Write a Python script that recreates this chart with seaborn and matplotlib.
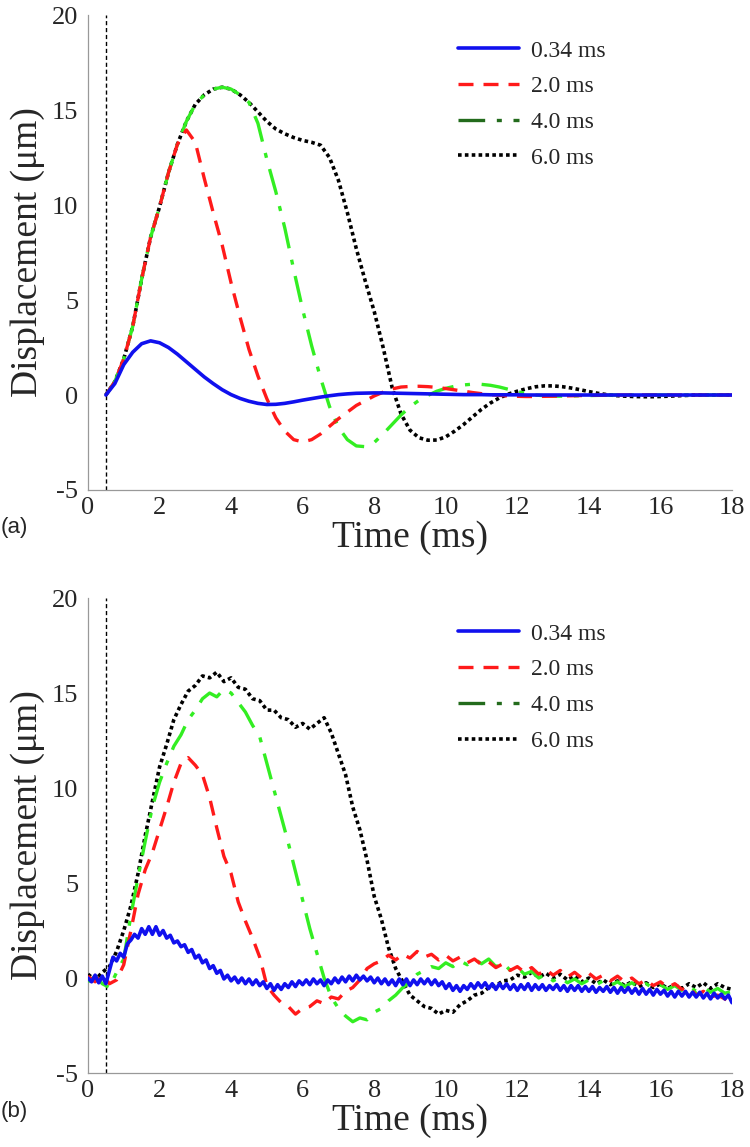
import numpy as np
import pandas as pd
import seaborn as sns
import matplotlib
matplotlib.use("Agg")
from matplotlib import pyplot as plt

# ---- data, panel (a): simulated displacement, sampled every 0.25 ms from 0.5 ms
time_a = np.arange(0.5, 18.0001, 0.25)

blue_a = [0.0, 0.6, 1.6, 2.25, 2.7, 2.85, 2.75, 2.5, 2.15, 1.75, 1.35, 0.95,
          0.6, 0.28, 0.02, -0.18, -0.33, -0.44, -0.5, -0.49, -0.44, -0.36, -0.27, -0.19,
          -0.11, -0.04, 0.02, 0.06, 0.09, 0.1, 0.11, 0.11, 0.1, 0.09, 0.08, 0.07,
          0.06, 0.05, 0.04, 0.03, 0.02, 0.02, 0.02, 0.01, 0.01, 0.01, 0.01, 0.0,
          0.0, 0.0, 0.0, 0.0, 0.0, 0.0, 0.0, 0.0, 0.0, 0.0, 0.0, 0.0,
          0.0, 0.0, 0.0, 0.0, 0.0, 0.0, 0.0, 0.0, 0.0, 0.0, 0.0]

red_a = [0.0, 0.7, 1.9, 3.6, 6.1, 8.3, 9.9, 11.7, 13.2, 13.95, 13.3, 11.4,
         9.6, 7.9, 5.9, 4.1, 2.4, 1.0, -0.2, -1.2, -1.9, -2.35, -2.47, -2.35,
         -2.05, -1.65, -1.25, -0.9, -0.55, -0.3, -0.05, 0.15, 0.32, 0.42, 0.45, 0.46,
         0.44, 0.4, 0.34, 0.27, 0.2, 0.13, 0.07, 0.02, -0.02, -0.05, -0.07, -0.08,
         -0.08, -0.07, -0.06, -0.05, -0.04, -0.03, -0.02, -0.01, 0.0, 0.0, 0.0, 0.0,
         0.0, 0.0, 0.0, 0.0, 0.0, 0.0, 0.0, 0.0, 0.0, 0.0, 0.0]

green_a = [0.0, 0.7, 1.9, 3.6, 6.1, 8.3, 9.9, 11.7, 13.2, 14.4, 15.3, 15.8,
           16.1, 16.2, 16.1, 15.8, 15.4, 14.3, 12.4, 10.7, 8.8, 6.6, 4.5, 2.6,
           0.9, -0.6, -1.7, -2.35, -2.68, -2.72, -2.5, -2.05, -1.55, -1.05, -0.62, -0.28,
           -0.02, 0.2, 0.35, 0.46, 0.53, 0.57, 0.56, 0.51, 0.42, 0.3, 0.18, 0.08,
           0.0, -0.04, -0.06, -0.06, -0.05, -0.04, -0.03, -0.02, -0.01, 0.0, 0.0, 0.0,
           0.0, 0.0, 0.0, 0.0, 0.0, 0.0, 0.0, 0.0, 0.0, 0.0, 0.0]

black_a = [0.0, 0.7, 1.9, 3.6, 6.1, 8.3, 9.9, 11.7, 13.2, 14.4, 15.3, 15.8,
           16.1, 16.2, 16.1, 15.8, 15.4, 14.9, 14.4, 14.0, 13.75, 13.55, 13.4, 13.3,
           13.15, 12.5, 11.3, 9.6, 7.7, 6.0, 4.4, 2.5, 0.4, -1.0, -1.85, -2.25,
           -2.38, -2.37, -2.2, -1.9, -1.55, -1.15, -0.75, -0.42, -0.15, 0.05, 0.2, 0.33,
           0.43, 0.48, 0.48, 0.44, 0.37, 0.28, 0.18, 0.09, 0.02, -0.03, -0.06, -0.08,
           -0.09, -0.09, -0.08, -0.06, -0.04, -0.02, 0.0, 0.0, 0.0, 0.0, 0.0]

# ---- data, panel (b): measured displacement
time_b_blue = np.arange(0.0, 18.0001, 0.1)
blue_b = [0.0, -0.2, 0.15, -0.25, 0.1, -0.3, 0.4, 1.1, 0.9, 1.3,
          1.1, 1.8, 2.0, 2.3, 2.1, 2.6, 2.3, 2.7, 2.3, 2.7,
          2.25, 2.5, 2.1, 2.25, 1.85, 1.95, 1.65, 1.75, 1.35, 1.5,
          1.05, 1.2, 0.8, 0.95, 0.5, 0.65, 0.25, 0.4, -0.05, 0.15,
          -0.15, 0.05, -0.25, 0.0, -0.3, -0.05, -0.35, -0.1, -0.4, -0.2,
          -0.55, -0.3, -0.65, -0.35, -0.6, -0.3, -0.5, -0.2, -0.45, -0.15,
          -0.35, -0.1, -0.35, -0.05, -0.3, -0.1, -0.4, -0.1, -0.3, 0.0,
          -0.25, 0.05, -0.2, 0.1, -0.15, 0.15, -0.1, 0.1, -0.15, 0.05,
          -0.25, 0.0, -0.3, -0.05, -0.35, -0.1, -0.4, -0.05, -0.35, -0.05,
          -0.4, -0.1, -0.35, -0.05, -0.3, -0.05, -0.35, -0.1, -0.4, -0.2,
          -0.55, -0.3, -0.65, -0.4, -0.7, -0.4, -0.6, -0.3, -0.55, -0.25,
          -0.5, -0.25, -0.55, -0.3, -0.6, -0.3, -0.55, -0.3, -0.6, -0.35,
          -0.65, -0.35, -0.6, -0.3, -0.65, -0.35, -0.6, -0.35, -0.65, -0.4,
          -0.6, -0.35, -0.65, -0.4, -0.7, -0.4, -0.65, -0.4, -0.7, -0.45,
          -0.7, -0.45, -0.75, -0.5, -0.7, -0.45, -0.75, -0.5, -0.8, -0.5,
          -0.75, -0.5, -0.8, -0.55, -0.85, -0.55, -0.85, -0.6, -0.9, -0.6,
          -0.85, -0.65, -0.95, -0.7, -1.0, -0.7, -0.95, -0.7, -1.0, -0.75,
          -1.0, -0.75, -1.05, -0.8, -1.1, -0.8, -1.05, -0.85, -1.1, -0.9,
          -1.3]

time_b = np.arange(0.0, 18.0001, 0.2)
red_b = [0.1, -0.2, 0.2, -0.3, -0.1, 0.7, 2.5, 4.4, 5.7, 6.6,
         7.8, 9.0, 10.3, 11.3, 11.6, 11.2, 10.7, 9.5, 7.9, 6.4,
         5.5, 4.0, 3.0, 2.1, 1.1, -0.4, -0.9, -1.3, -1.5, -1.9,
         -1.6, -1.5, -1.2, -1.35, -1.0, -1.1, -0.7, -0.5, -0.1, 0.5,
         0.75, 0.9, 1.2, 0.95, 1.25, 1.05, 1.4, 1.1, 1.25, 0.95,
         1.2, 0.9, 1.1, 0.8, 1.0, 0.7, 0.85, 0.55, 0.75, 0.4,
         0.6, 0.3, 0.55, 0.2, 0.45, 0.15, 0.4, 0.05, 0.3, 0.0,
         0.25, -0.05, 0.15, -0.15, 0.1, -0.2, 0.0, -0.3, -0.1, -0.4,
         -0.2, -0.5, -0.3, -0.6, -0.5, -0.9, -0.7, -1.0, -0.9, -1.1,
         -1.3]
green_b = [-0.2, 0.1, -0.3, -0.5, 0.3, 1.0, 3.3, 5.3, 7.2, 9.0,
           10.3, 11.3, 12.2, 12.8, 13.6, 14.1, 14.7, 15.0, 14.8, 15.2,
           15.0, 14.5, 14.0, 13.3, 12.7, 11.3, 9.9, 8.5, 7.1, 5.6,
           4.1, 2.6, 1.3, 0.0, -1.0, -1.6, -2.0, -2.3, -2.1, -2.2,
           -1.8, -1.6, -1.2, -0.9, -0.5, -0.2, 0.2, 0.4, 0.6, 0.5,
           0.8, 0.6, 0.9, 0.7, 1.0, 0.75, 1.0, 0.6, 0.8, 0.4,
           0.55, 0.2, 0.35, 0.0, 0.2, -0.15, 0.05, -0.25, -0.05, -0.3,
           -0.1, -0.35, -0.15, -0.4, -0.2, -0.45, -0.25, -0.5, -0.3, -0.55,
           -0.35, -0.6, -0.4, -0.65, -0.45, -0.7, -0.5, -0.75, -0.55, -0.8,
           -0.7]
black_b = [0.2, -0.1, 0.3, 0.6, 1.4, 2.5, 3.8, 5.5, 7.5, 9.3,
           11.1, 12.3, 13.6, 14.4, 15.1, 15.4, 15.9, 15.8, 16.1, 15.6,
           15.8, 15.3, 15.2, 14.7, 14.6, 14.1, 14.1, 13.7, 13.6, 13.2,
           13.4, 13.1, 13.4, 13.7, 12.9, 11.8, 10.7, 9.0, 7.8, 6.2,
           4.3, 3.1, 1.6, 0.5, -0.2, -0.9, -1.2, -1.5, -1.6, -1.9,
           -1.7, -1.8, -1.4, -1.2, -0.9, -0.8, -0.5, -0.4, -0.15, -0.1,
           0.15, 0.05, 0.3, 0.05, 0.25, 0.0, 0.2, -0.1, 0.1, -0.2,
           0.0, -0.3, -0.1, -0.35, -0.15, -0.4, -0.2, -0.45, -0.25, -0.5,
           -0.3, -0.55, -0.35, -0.55, -0.3, -0.5, -0.25, -0.55, -0.3, -0.5,
           -0.6]

labels = ["0.34 ms", "2.0 ms", "4.0 ms", "6.0 ms"]
colors = ["#1010ee", "#ff1a1a", "#33ee22", "black"]
dashes = [(None, None), (4.5, 3), (8, 3.5, 1.5, 3.5), (1, 0.9)]
widths = [2.6, 2.4, 2.4, 2.6]
x_ticks = list(range(0, 19, 2))
y_ticks = [-5, 0, 5, 10, 15, 20]
trigger_time = 0.5

sns.set_style("white")
plt.rcParams["font.family"] = ["Liberation Serif", "DejaVu Serif"]
plt.rcParams["axes.unicode_minus"] = False

fig = plt.figure(figsize=(7.5, 11.47), dpi=100)
ax_a = fig.add_axes([0.1173, 0.5728, 0.8587, 0.4141])
ax_b = fig.add_axes([0.1173, 0.0645, 0.8587, 0.4141])

panels = [
    (ax_a, [(time_a, blue_a), (time_a, red_a), (time_a, green_a), (time_a, black_a)], "(a)"),
    (ax_b, [(time_b_blue, blue_b), (time_b, red_b), (time_b, green_b), (time_b, black_b)], "(b)"),
]

for ax, series, tag in panels:
    ax.axvline(trigger_time, color="black", lw=1.0, ls=(0, (3, 2)), zorder=1)
    # draw back to front so blue sits on top, like the reference
    for i in [3, 2, 1, 0]:
        t, v = series[i]
        df = pd.DataFrame({"t": t, "v": v})
        sns.lineplot(data=df, x="t", y="v", ax=ax, color=colors[i], lw=widths[i],
                     label=labels[i], estimator=None, sort=False, zorder=3 + (3 - i))
        line = ax.lines[-1]
        if dashes[i][0] is not None:
            line.set_dashes(dashes[i])

    ax.set_xlim(0, 18)
    ax.set_ylim(-5, 20)
    ax.set_xticks(x_ticks)
    ax.set_yticks(y_ticks)
    ax.tick_params(axis="x", direction="in", length=5, width=0.8, color="#999999",
                   labelsize=19, pad=5)
    ax.tick_params(axis="y", direction="inout", length=6, width=0.8, color="#999999",
                   labelsize=19, pad=4)
    for side in ["top", "right"]:
        ax.spines[side].set_visible(False)
    for side in ["left", "bottom"]:
        ax.spines[side].set_color("#999999")
        ax.spines[side].set_linewidth(0.9)
    ax.set_xlabel("Time (ms)", fontsize=27, labelpad=1)
    ax.set_ylabel("Displacement (μm)", fontsize=27, labelpad=5)

    handles, labs = ax.get_legend_handles_labels()
    order = [labs.index(l) for l in labels]
    handles = [handles[k] for k in order]
    leg = ax.legend(handles, labels, loc="upper left", bbox_to_anchor=(0.56, 0.967),
                    frameon=False, fontsize=17, handlelength=2.6, handletextpad=0.5,
                    labelspacing=0.6, borderaxespad=0)
    # legend key for 4.0 ms is printed in dark green in the original
    leg.get_lines()[2].set_color("#236b1c")

    ax.text(-0.135, -0.08, tag, transform=ax.transAxes, fontsize=16,
            family=["Liberation Sans", "DejaVu Sans"], va="center", ha="left")

fig.savefig("out.png", dpi=100)
